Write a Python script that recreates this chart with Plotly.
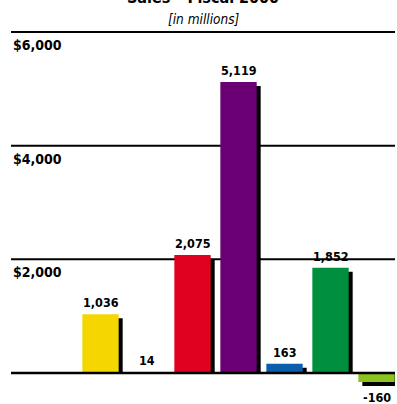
import plotly.graph_objects as go

# Fiscal 2000 sales by business unit, in millions of dollars
sales = [1036, 14, 2075, 5119, 163, 1852, -160]
value_labels = ["1,036", "14", "2,075", "5,119", "163", "1,852", "-160"]
bar_colors = ["#F5D600", "#F29200", "#E0001F", "#6A0073", "#0B5EAA", "#008F3E", "#8CC31F"]
grid_values = [2000, 4000, 6000]
grid_labels = ["$2,000", "$4,000", "$6,000"]

W, H = 397, 404
ML, MR = 11, 2
Y_MIN, Y_MAX = -545, 6563
X_MIN, X_MAX = -1.946, 6.402
BAR_W = 0.79

px_per_x = (W - ML - MR) / (X_MAX - X_MIN)
px_per_y = H / (Y_MAX - Y_MIN)
SHADOW_DX = 4 / px_per_x
SHADOW_DY = 4 / px_per_y

FONT = "DejaVu Sans Condensed, Liberation Sans Narrow, sans-serif"

xs = list(range(len(sales)))

# drop shadow: the bar moved 4px right and 4px down, clipped at the baseline
shadow_vals = [max(v - SHADOW_DY, 0) if v >= 0 else v - SHADOW_DY for v in sales]

fig = go.Figure()
fig.add_trace(go.Bar(
    x=[x + SHADOW_DX for x in xs], y=shadow_vals, width=BAR_W,
    marker=dict(color="black", line=dict(width=0)), hoverinfo="skip",
))
fig.add_trace(go.Bar(
    x=xs, y=sales, width=BAR_W,
    marker=dict(color=bar_colors, line=dict(width=0)),
))

shapes = []
for g in grid_values:
    shapes.append(dict(type="line", xref="paper", yref="y", x0=0, x1=1, y0=g, y1=g,
                       line=dict(color="black", width=2), layer="below"))
shapes.append(dict(type="line", xref="paper", yref="y", x0=0, x1=1, y0=0, y1=0,
                   line=dict(color="black", width=2.5), layer="above"))

annotations = []
for g, lab in zip(grid_values, grid_labels):
    annotations.append(dict(x=0, xref="paper", y=g, yref="y", text=f"<b>{lab}</b>",
                            showarrow=False, xanchor="left", yanchor="top", yshift=-3,
                            font=dict(family=FONT, size=14, color="black")))
for x, v, lab in zip(xs, sales, value_labels):
    if v >= 0:
        annotations.append(dict(x=x, y=v, text=f"<b>{lab}</b>", showarrow=False,
                                xanchor="center", yanchor="bottom", yshift=2,
                                font=dict(family=FONT, size=12.5, color="black")))
    else:
        annotations.append(dict(x=x, y=v, text=f"<b>{lab}</b>", showarrow=False,
                                xanchor="center", yanchor="top", yshift=-6,
                                font=dict(family=FONT, size=12.5, color="black")))

# title and subtitle, positioned in pixels from the top edge
annotations.append(dict(x=0.5, xref="paper", y=1 + 2 / H, yref="paper",
                        text="<b>Sales – Fiscal 2000</b>",
                        showarrow=False, xanchor="center", yanchor="middle",
                        font=dict(family=FONT, size=16, color="black")))
annotations.append(dict(x=0.5, xref="paper", y=1 - 19 / H, yref="paper",
                        text="<i>[in millions]</i>",
                        showarrow=False, xanchor="center", yanchor="middle",
                        font=dict(family=FONT, size=13.5, color="black")))

fig.update_layout(
    width=W, height=H,
    margin=dict(l=ML, r=MR, t=0, b=0),
    paper_bgcolor="white", plot_bgcolor="white",
    barmode="overlay", showlegend=False,
    xaxis=dict(range=[X_MIN, X_MAX], visible=False, fixedrange=True),
    yaxis=dict(range=[Y_MIN, Y_MAX], visible=False, fixedrange=True),
    shapes=shapes, annotations=annotations,
)

fig.write_html("out.html")
